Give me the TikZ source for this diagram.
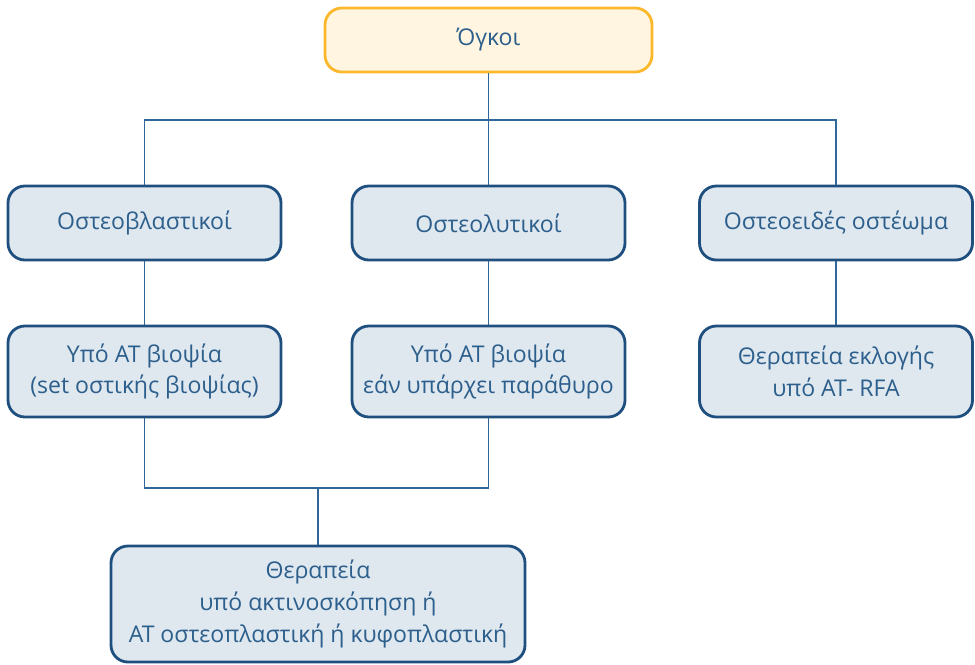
\documentclass[tikz,border=0pt]{standalone}
\usepackage{fontspec}
\setmainfont{Open Sans}
\usepackage{xcolor}
\usetikzlibrary{positioning}
\definecolor{boxline}{HTML}{1E4F7E}
\definecolor{boxfill}{HTML}{DFE7EF}
\definecolor{rootline}{HTML}{FBB82B}
\definecolor{rootfill}{HTML}{FFF5E1}
\definecolor{wire}{HTML}{2F679A}
\definecolor{txt}{HTML}{2C5F8C}

\begin{document}
\begin{tikzpicture}[
  x=0.025cm, y=-0.025cm,
  font=\fontsize{16.4}{22.5}\selectfont,
  every node/.style={align=center, text=txt},
  kind/.style={draw=boxline, line width=2pt, rounded corners=12pt, fill=boxfill,
    minimum width=273*0.025cm, minimum height=74*0.025cm, inner sep=2pt},
  act/.style={kind, minimum height=91*0.025cm},
  root/.style={kind, draw=rootline, fill=rootfill, minimum width=327*0.025cm, minimum height=64*0.025cm},
  link/.style={draw=wire, line width=1.3pt},
]
\useasboundingbox (0,0) rectangle (975,665);
% root
\node[root] (tumors) at (488.5,40) {Όγκοι};
% tumour types
\node[kind] (blastic) at (144.5,223) {Οστεοβλαστικοί};
\node[kind] (lytic) at (488.5,223) {Οστεολυτικοί};
\node[kind] (osteoid) at (836,223) {Οστεοειδές οστέωμα};
% biopsy / treatment
\node[act] (bxblastic) at (144.5,371.5) {Υπό ΑΤ βιοψία\\(set οστικής βιοψίας)};
\node[act] (bxlytic) at (488.5,371.5) {Υπό ΑΤ βιοψία\\εάν υπάρχει παράθυρο};
\node[act] (rfa) at (836,371.5) {Θεραπεία εκλογής\\υπό ΑΤ- RFA};
% common treatment
\node[kind, minimum width=414*0.025cm, minimum height=116*0.025cm] (plasty) at (318,604)
  {Θεραπεία\\υπό ακτινοσκόπηση ή\\ΑΤ οστεοπλαστική ή κυφοπλαστική};
% tree
\coordinate (split) at (488.5,120);
\coordinate (merge) at (318,488);
\draw[link] (tumors) -- (split);
\draw[link] (blastic.north) |- (split) -| (osteoid.north);
\draw[link] (split) -- (lytic);
\draw[link] (blastic) -- (bxblastic);
\draw[link] (lytic) -- (bxlytic);
\draw[link] (osteoid) -- (rfa);
\draw[link] (bxblastic.south) |- (merge) -| (bxlytic.south);
\draw[link] (merge) -- (plasty);
\end{tikzpicture}
\end{document}
